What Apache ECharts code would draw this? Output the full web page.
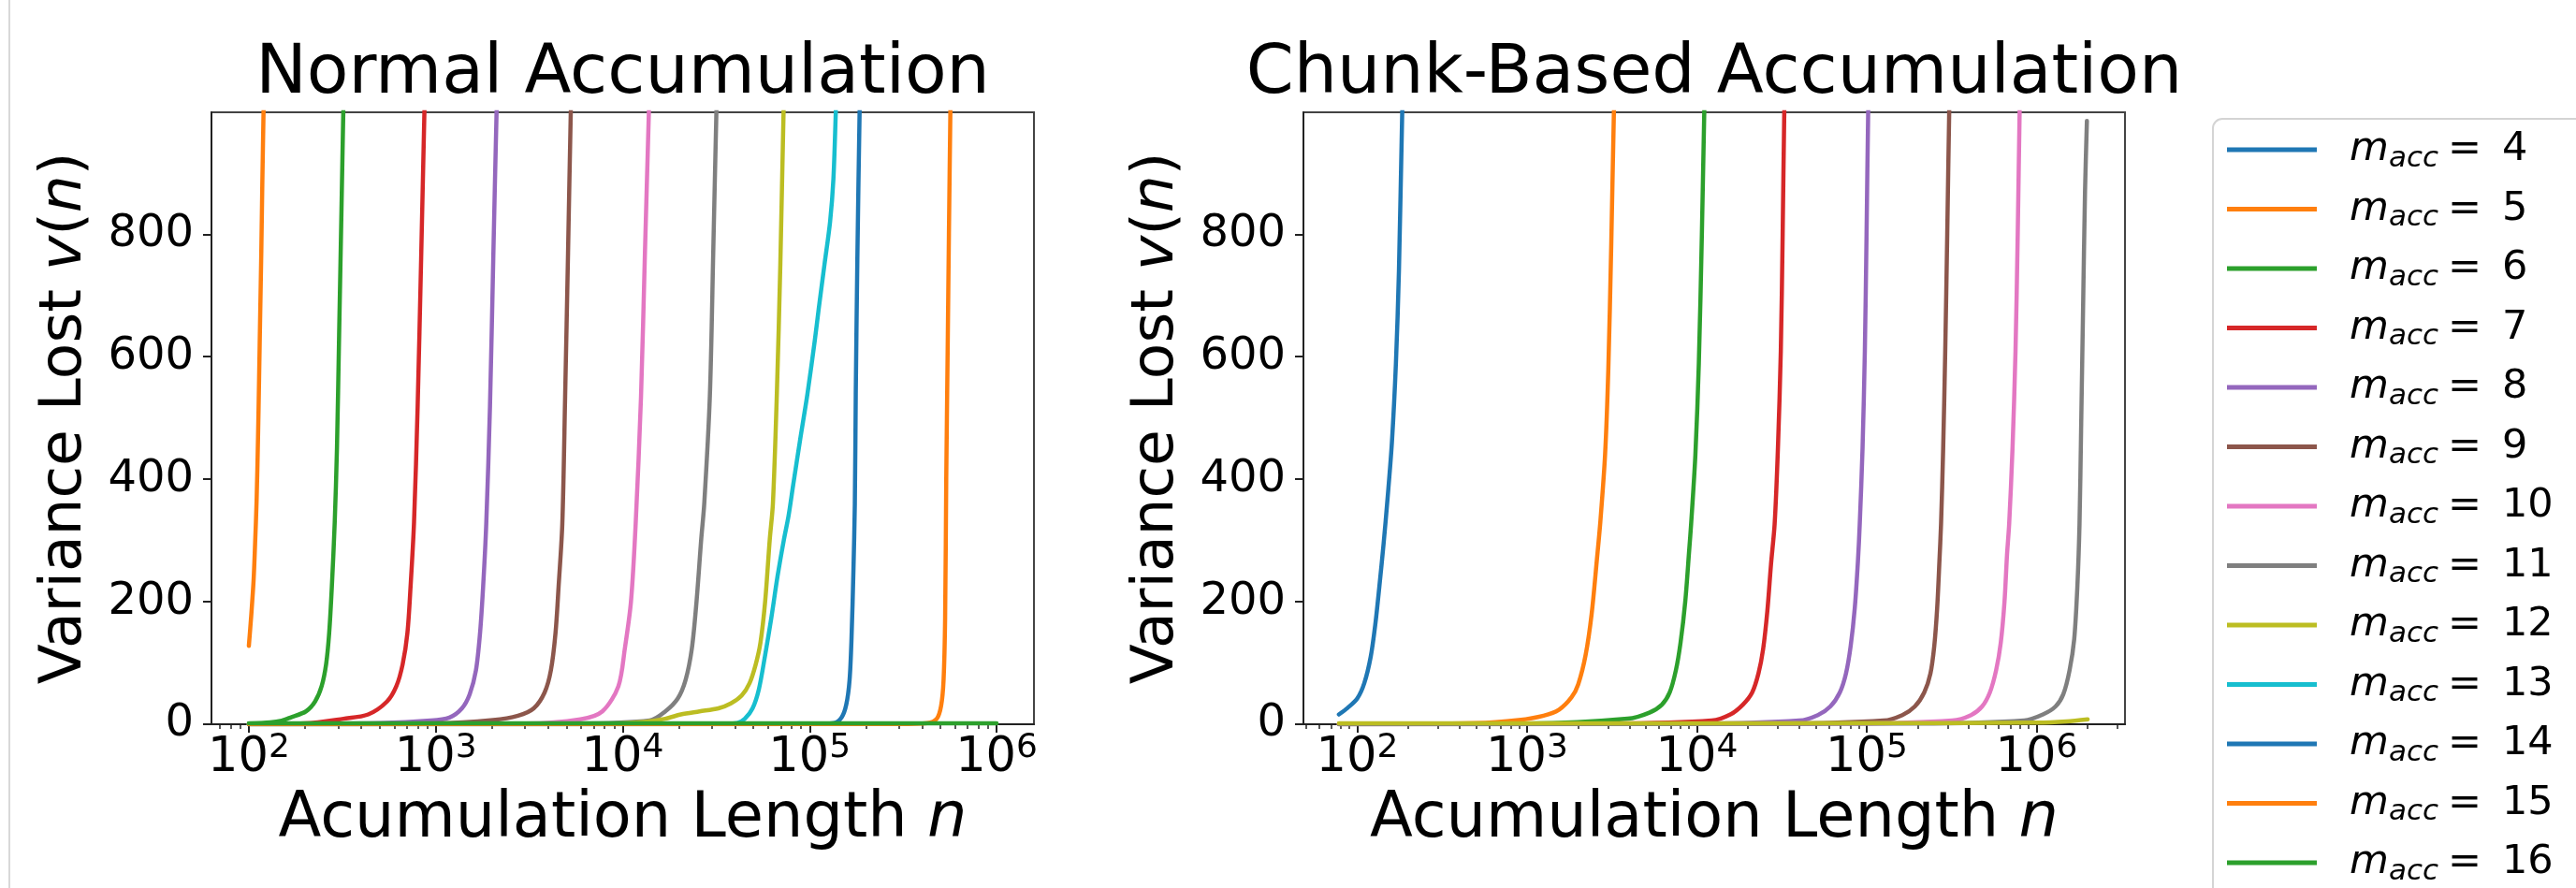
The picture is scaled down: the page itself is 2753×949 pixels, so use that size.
<!DOCTYPE html>
<html>
<head>
<meta charset="utf-8">
<title>Variance lost vs accumulation length</title>
<script src="https://cdn.jsdelivr.net/npm/echarts@6.0.0/dist/echarts.min.js"></script>
<style>
  html, body { margin: 0; padding: 0; background: #fff; }
  #main { width: 2753px; height: 949px; }
</style>
</head>
<body>
<div id="main"></div>
<script>
// legend entries (m_acc) and their colours (matplotlib tab10 cycle)
var mAcc = [4, 5, 6, 7, 8, 9, 10, 11, 12, 13, 14, 15, 16];
var colors = ['#1f77b4', '#ff7f0e', '#2ca02c', '#d62728', '#9467bd', '#8c564b',
  '#e377c2', '#7f7f7f', '#bcbd22', '#17becf', '#1f77b4', '#ff7f0e', '#2ca02c'];

// ---- Normal accumulation, [n, v(n)] ----
var normal5 = [[100, 128], [103, 178], [106, 235], [108, 295], [110, 364], [112, 470], [113.5, 568],
  [115, 670], [116.6, 773], [118, 880], [119.8, 998], [121, 1080]];
var normal6 = [[100, 1], [130, 3], [150, 6], [167, 11], [202, 21], [226, 37], [245, 62], [259, 98],
  [269, 149], [278, 225], [288, 330], [296, 450], [304, 636], [313, 841], [320, 998], [323, 1060]];
var normal7 = [[100, 0.5], [200, 1.5], [321, 9], [435, 16], [548, 37], [615, 62], [665, 98], [705, 149],
  [733, 225], [765, 330], [800, 520], [835, 760], [869, 998], [880, 1060]];
var normal8 = [[100, 0.3], [500, 2], [940, 6], [1183, 11], [1380, 26], [1518, 49], [1640, 88], [1725, 149],
  [1792, 225], [1862, 327], [1950, 520], [2030, 760], [2114, 998], [2150, 1060]];
var normal9 = [[100, 0.2], [1000, 1.5], [2027, 7], [2754, 14], [3342, 26], [3822, 52], [4128, 88], [4370, 149],
  [4540, 225], [4752, 327], [4920, 535], [5100, 770], [5273, 998], [5350, 1060]];
var normal10 = [[100, 0.1], [3000, 1], [5940, 8], [7780, 21], [9480, 62], [10260, 123], [11070, 200],
  [11730, 327], [12530, 535], [13150, 770], [13800, 998], [14000, 1060]];
var normal11 = [[100, 0.1], [5000, 1], [13930, 6], [16900, 21], [19700, 42], [21680, 72], [23420, 123],
  [24820, 200], [26300, 302], [27300, 360], [29250, 535], [30500, 770], [31700, 998], [32200, 1060]];
var normal12 = [[100, 0.1], [8000, 1], [13000, 4], [16900, 9], [20460, 16], [25760, 21], [32500, 26],
  [37870, 34], [43300, 47], [47700, 67], [51500, 98], [54550, 133], [57800, 200], [61200, 302],
  [63600, 360], [66800, 541], [69700, 751], [72500, 998], [73500, 1060]];
var normal13 = [[100, 0], [30000, 0.5], [40900, 2], [45000, 9], [49500, 26], [53500, 57], [57800, 113],
  [62400, 174], [67300, 241], [72700, 300], [77100, 340], [81600, 390], [89000, 465], [97300, 539],
  [106700, 628], [111900, 679], [120000, 750], [128600, 820], [134000, 890], [138000, 999], [140000, 1060]];
var normal14 = [[100, 0], [100000, 0.5], [134700, 2], [148200, 11], [157000, 32], [163500, 72],
  [167500, 140], [171500, 251], [174500, 360], [176500, 539], [180000, 760], [185000, 998], [187000, 1060]];
var normal15 = [[100, 0], [300000, 0.3], [426500, 2], [478600, 9], [505000, 30], [520500, 72],
  [530700, 174], [538000, 400], [547000, 600], [556000, 800], [566000, 999], [570000, 1060]];
var normal16 = [[100, 1.5], [1000, 1.5], [10000, 1.5], [100000, 1.5], [1000000, 1.5]];

// ---- Chunk-based accumulation, right panel ----
var chunk4 = [[78, 16], [88, 27], [100, 42], [110, 67], [120, 110], [128, 165], [135, 225], [143, 295],
  [151, 370], [160, 460], [169, 590], [176, 740], [184, 998], [187, 1060]];
var chunk5 = [[78, 0.5], [500, 2], [893, 7], [1251, 14], [1545, 24], [1828, 44], [2000, 65], [2212, 113],
  [2400, 180], [2580, 270], [2700, 330], [2880, 440], [3010, 580], [3130, 780], [3245, 998], [3300, 1060]];
var chunk6 = [[78, 0.3], [1000, 1], [3909, 9], [5250, 19], [6220, 32], [6920, 52], [7520, 88], [8010, 133],
  [8540, 200], [9020, 286], [9250, 327], [9800, 440], [10270, 590], [10700, 800], [11050, 998], [11200, 1060]];
var chunk7 = [[78, 0.2], [3000, 1], [12220, 6], [15740, 16], [18650, 32], [21170, 52], [23050, 83],
  [24560, 123], [26000, 185], [27320, 261], [28700, 327], [30000, 450], [31200, 609], [32000, 800],
  [32700, 998], [33200, 1060]];
var chunk8 = [[78, 0.1], [10000, 1], [40000, 6], [51550, 15], [61060, 29], [69460, 52], [75510, 83],
  [80470, 128], [85080, 190], [88780, 266], [91000, 327], [94500, 450], [97500, 609], [99800, 800],
  [102000, 998], [103500, 1060]];
var chunk9 = [[78, 0.1], [30000, 1], [125600, 6], [162100, 15], [192000, 29], [218200, 52], [237300, 83],
  [250000, 128], [260000, 190], [268000, 266], [274000, 327], [282000, 450], [290000, 609], [298000, 800],
  [306000, 998], [310000, 1060]];
var chunk10 = [[78, 0], [80000, 1], [319000, 6], [411700, 15], [477800, 29], [531300, 52], [578000, 88],
  [615600, 133], [647700, 200], [670000, 276], [690000, 327], [722000, 450], [752000, 609], [775000, 800],
  [795000, 998], [805000, 1060]];
var chunk11 = [[78, 0], [200000, 1], [845000, 6], [1091000, 16], [1294000, 29], [1438000, 49],
  [1565000, 88], [1667000, 139], [1740000, 225], [1791000, 327], [1830000, 480], [1880000, 680],
  [1930000, 870], [1980000, 985]];
var chunk12 = [[78, 1.5], [1000, 1.5], [100000, 1.8], [1000000, 2.5], [1500000, 4.5], [2000000, 8]];

var normalData = [null, normal5, normal6, normal7, normal8, normal9, normal10, normal11, normal12,
  normal13, normal14, normal15, normal16];
var chunkData = [chunk4, chunk5, chunk6, chunk7, chunk8, chunk9, chunk10, chunk11, chunk12];

// ticks
var majorTicks = [1e2, 1e3, 1e4, 1e5, 1e6];
var yTicks = [0, 200, 400, 600, 800];

function minorTicks(lo, hi) {
  var out = [];
  for (var d = 1; d <= 6; d++) {
    for (var k = 2; k <= 9; k++) {
      var v = k * Math.pow(10, d);
      if (v > lo && v < hi) out.push(v);
    }
  }
  return out;
}

var FONT = 'DejaVu Sans';
var chart = echarts.init(document.getElementById('main'));

var xRangeL = [Math.pow(10, 1.8), Math.pow(10, 6.2)];
var xRangeR = [Math.pow(10, 1.6832), Math.pow(10, 6.5209)];

function mainX(grid, range) {
  return {
    type: 'log', logBase: 10, gridIndex: grid, position: 'bottom',
    min: range[0], max: range[1],
    name: '{t|Acumulation Length }{i|n}',
    nameLocation: 'middle', nameGap: 70,
    nameTextStyle: {
      rich: {
        t: { fontFamily: FONT, fontSize: 67, lineHeight: 66, color: '#000' },
        i: { fontFamily: FONT, fontSize: 67, lineHeight: 66, color: '#000', fontStyle: 'italic' }
      }
    },
    axisLine: { show: true, lineStyle: { color: '#222', width: 2 } },
    axisTick: { show: true, customValues: majorTicks, length: 9, lineStyle: { color: '#222', width: 2 } },
    axisLabel: {
      customValues: majorTicks, margin: 8,
      formatter: function (v) { return '{b|10}{s|' + Math.round(Math.log10(v)) + '}'; },
      rich: {
        b: { fontFamily: FONT, fontSize: 51, lineHeight: 58, color: '#000' },
        s: { fontFamily: FONT, fontSize: 36, lineHeight: 36, color: '#000', verticalAlign: 'top' }
      }
    },
    splitLine: { show: false }
  };
}

function minorX(grid, range) {
  return {
    type: 'log', logBase: 10, gridIndex: grid, position: 'bottom',
    min: range[0], max: range[1],
    axisLine: { show: false },
    axisTick: { show: true, customValues: minorTicks(range[0], range[1]), length: 5,
      lineStyle: { color: '#222', width: 1.5 } },
    axisLabel: { show: false },
    splitLine: { show: false }
  };
}

function mainY(grid, gap) {
  return {
    type: 'value', gridIndex: grid, min: 0, max: 999,
    name: '{t|Variance Lost }{i|v}{t|(}{i|n}{t|)}',
    nameLocation: 'middle', nameGap: gap,
    nameTextStyle: {
      rich: {
        t: { fontFamily: FONT, fontSize: 63, lineHeight: 64, color: '#000' },
        i: { fontFamily: FONT, fontSize: 63, lineHeight: 64, color: '#000', fontStyle: 'italic' }
      }
    },
    axisLine: { show: true, lineStyle: { color: '#222', width: 2 } },
    axisTick: { show: true, customValues: yTicks, length: 9, lineStyle: { color: '#222', width: 2 } },
    axisLabel: { customValues: yTicks, margin: 19, fontFamily: FONT, fontSize: 48, color: '#000' },
    splitLine: { show: false }
  };
}

var series = [];
mAcc.forEach(function (m, i) {
  if (normalData[i]) {
    series.push({
      name: 'm' + m, type: 'line', xAxisIndex: 0, yAxisIndex: 0,
      data: normalData[i], symbol: 'none', smooth: 0.3,
      lineStyle: { width: 4.5, color: colors[i], join: 'round', cap: 'round' }, itemStyle: { color: colors[i] }
    });
  }
});
mAcc.forEach(function (m, i) {
  if (chunkData[i]) {
    series.push({
      name: 'm' + m, type: 'line', xAxisIndex: 2, yAxisIndex: 1,
      data: chunkData[i], symbol: 'none', smooth: 0.3,
      lineStyle: { width: 4.5, color: colors[i], join: 'round', cap: 'round' }, itemStyle: { color: colors[i] }
    });
  }
});

var option = {
  backgroundColor: '#fff',
  animation: false,
  title: [
    { text: 'Normal Accumulation', left: 665.5, top: 44, textAlign: 'center', padding: 0,
      textStyle: { fontFamily: FONT, fontSize: 73, fontWeight: 'normal', color: '#000' } },
    { text: 'Chunk-Based Accumulation', left: 1832, top: 44, textAlign: 'center', padding: 0,
      textStyle: { fontFamily: FONT, fontSize: 73, fontWeight: 'normal', color: '#000' } }
  ],
  grid: [
    { left: 226, top: 120, width: 879, height: 654, show: true, borderColor: '#444', borderWidth: 2,
      backgroundColor: 'transparent' },
    { left: 1393, top: 120, width: 878, height: 654, show: true, borderColor: '#444', borderWidth: 2,
      backgroundColor: 'transparent' }
  ],
  xAxis: [mainX(0, xRangeL), minorX(0, xRangeL), mainX(1, xRangeR), minorX(1, xRangeR)],
  yAxis: [mainY(0, 124), mainY(1, 124)],
  legend: {
    orient: 'vertical', left: 2365, top: 127, height: 900,
    padding: [8, 70, 40, 15],
    icon: 'rect', itemWidth: 96, itemHeight: 5, itemGap: 13.5,
    backgroundColor: '#fff', borderColor: '#d4d4d4', borderWidth: 2, borderRadius: 10,
    selectedMode: false,
    data: mAcc.map(function (m) { return 'm' + m; }),
    formatter: function (name) {
      return '{m|m}{s|acc}{e|=}{v|' + name.slice(1) + '}';
    },
    textStyle: {
      fontFamily: FONT, fontSize: 42, lineHeight: 50, color: '#000',
      rich: {
        m: { fontFamily: FONT, fontSize: 43, lineHeight: 50, fontStyle: 'italic', padding: [0, 0, 0, 30] },
        s: { fontFamily: FONT, fontSize: 31, lineHeight: 30, fontStyle: 'italic', verticalAlign: 'bottom' },
        e: { fontFamily: FONT, fontSize: 43, lineHeight: 50, padding: [0, 0, 0, 10] },
        v: { fontFamily: FONT, fontSize: 43, lineHeight: 50, padding: [0, 0, 0, 22] }
      }
    }
  },
  graphic: [
    { type: 'line', shape: { x1: 10, y1: 0, x2: 10, y2: 949 }, style: { stroke: '#d8d8d8', lineWidth: 2 } }
  ],
  series: series
};

chart.setOption(option);
</script>
</body>
</html>
